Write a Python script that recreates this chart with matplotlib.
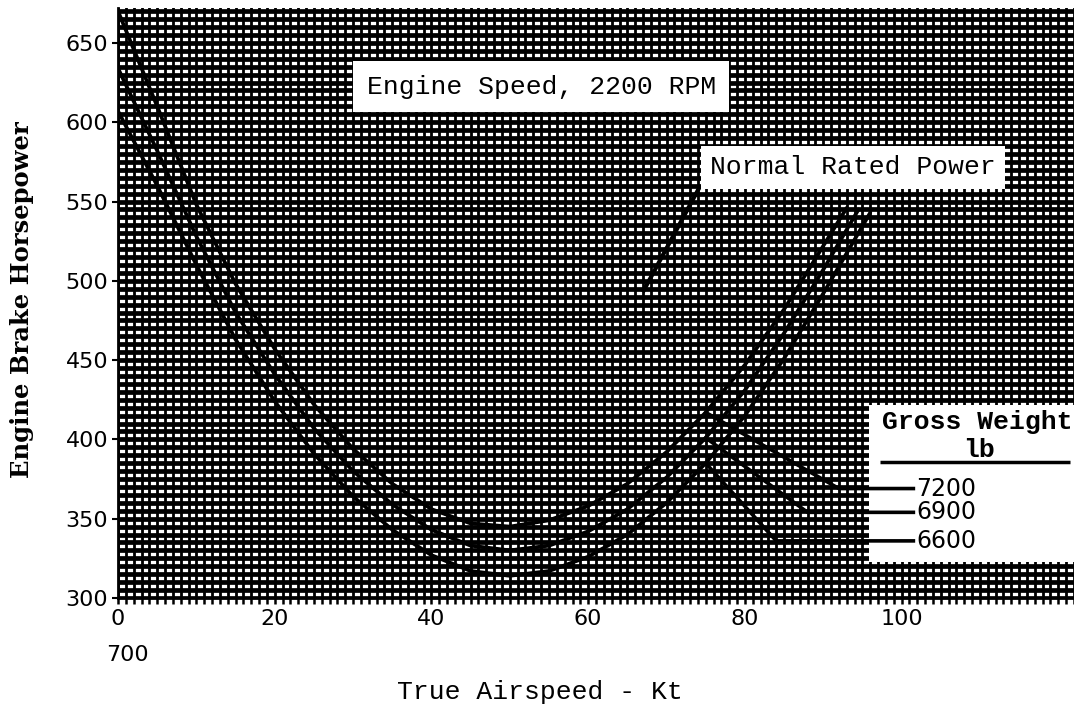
import numpy as np
import matplotlib
matplotlib.use("Agg")
import matplotlib.pyplot as plt
from matplotlib.patches import Rectangle

# level-flight power required, 2200 RPM
airspeed = [0, 5, 10, 15, 20, 25, 30, 35, 40, 45, 50, 55, 60, 65, 70, 75, 80, 85, 90]
power_7200 = [670, 610, 548, 498, 457, 422, 394, 372, 356, 347, 345, 349, 358, 372, 392, 417, 447, 482, 522]
power_6900 = [634, 582, 528, 480, 441, 407, 380, 359, 343, 333, 330, 333, 342, 356, 376, 401, 431, 467, 507]
power_6600 = [607, 560, 510, 463, 424, 391, 364, 343, 327, 317, 314, 317, 326, 340, 360, 385, 415, 451, 492]
# curves stop at normal rated power
end_7200 = (93.0, 546)
end_6900 = (94.5, 545)
end_6600 = (96.0, 543)

weights = ["7200", "6900", "6600"]
label_hp = [369, 354, 336]

x_ticks = [0, 20, 40, 60, 80, 100]
y_ticks = [300, 350, 400, 450, 500, 550, 600, 650]

MONO = "Liberation Mono"

fig = plt.figure(figsize=(10.74, 7.04), dpi=100)
ax = fig.add_axes([0.1099, 0.1506, 0.8901, 0.838])
ax.set_xlim(0, 122)
ax.set_ylim(300, 672)

# graph paper
ax.set_xticks(x_ticks)
ax.set_yticks(y_ticks)
ax.set_xticks(np.arange(0, 123, 1), minor=True)
ax.set_yticks(np.arange(300, 671, 5), minor=True)
ax.set_axisbelow(True)
ax.xaxis.grid(True, which="both", color="black", lw=2.0)
ax.yaxis.grid(True, which="both", color="black", lw=3.4)
ax.tick_params(axis="x", which="both", direction="out", length=4, width=1.8,
               labelsize=16, pad=4)
ax.tick_params(axis="y", which="major", direction="out", length=4, width=1.5,
               labelsize=16, pad=3)
ax.tick_params(axis="y", which="minor", length=0)
for s in ax.spines.values():
    s.set_color("black")
    s.set_linewidth(2)
ax.spines["top"].set_visible(False)
ax.spines["right"].set_visible(False)

curves = [(power_7200, end_7200), (power_6900, end_6900), (power_6600, end_6600)]
for vals, end in curves:
    xs = airspeed + [end[0]]
    ys = vals + [end[1]]
    ax.plot(xs, ys, color="black", lw=2.7, zorder=3, solid_capstyle="round")

# white panels cut out of the grid
ax.add_patch(Rectangle((95.8, 322.7), 30, 98.8, facecolor="white",
                       edgecolor="none", zorder=4))
ax.text(54.0, 622.5, "Engine Speed, 2200 RPM", family=MONO, fontsize=19,
        ha="center", va="center", zorder=5,
        bbox=dict(boxstyle="square,pad=0.5", fc="white", ec="none"))
ax.text(93.8, 571.5, "Normal Rated Power", family=MONO, fontsize=19,
        ha="center", va="center", zorder=5,
        bbox=dict(boxstyle="square,pad=0.35", fc="white", ec="none"))
ax.plot([74.1, 67.1], [558, 494], color="black", lw=3, zorder=3)

# gross weight key
ax.text(109.6, 411, "Gross Weight", family=MONO, fontsize=19, ha="center",
        va="center", zorder=6, fontweight="bold")
ax.text(109.9, 393, "lb", family=MONO, fontsize=19, ha="center", va="center",
        zorder=6, fontweight="bold")
ax.plot([97.2, 121.5], [385.5, 385.5], color="black", lw=2.5, zorder=6,
        solid_capstyle="butt")
starts = [(airspeed[15], power_7200[15]), (airspeed[15], power_6900[15]),
          (airspeed[15], power_6600[15])]
bends = [92, 88, 84]
for (x0, y0), xb, hp, w in zip(starts, bends, label_hp, weights):
    ax.plot([x0, xb, 101.5], [y0, hp, hp], color="black", lw=2.6, zorder=6)
    ax.text(101.9, hp, w, fontsize=17, ha="left", va="center", zorder=6)

ax.set_xlabel("True Airspeed - Kt", family=MONO, fontsize=19)
ax.xaxis.set_label_coords(0.441, -0.139)
ax.set_ylabel("Engine Brake Horsepower", family="DejaVu Serif", fontsize=17.5,
              fontweight="bold")
ax.yaxis.set_label_coords(-0.088, 0.505)

fig.text(0.119, 0.070, "700", fontsize=16, ha="center", va="center")

fig.savefig("out.png", dpi=100)
